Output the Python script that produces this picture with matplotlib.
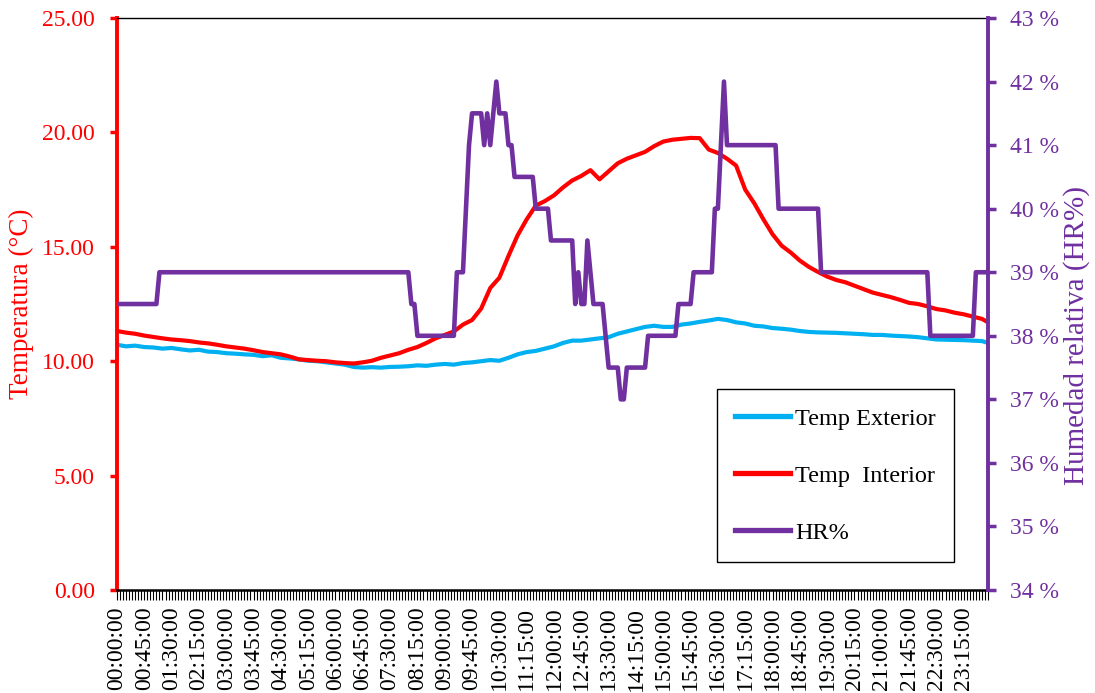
import matplotlib.pyplot as plt
from matplotlib.lines import Line2D
from matplotlib.ticker import FuncFormatter

plt.rcParams['font.family'] = ['Liberation Serif', 'DejaVu Serif']

# categories: one reading every 5 minutes
times = [f'{m // 60:02d}:{m % 60:02d}:00' for m in range(0, 24 * 60, 5)]

temp_times = [f'{m // 60:02d}:{m % 60:02d}:00' for m in range(0, 24 * 60, 15)] + ['23:55:00']

temp_ext = [10.72, 10.65, 10.68, 10.62, 10.60, 10.55, 10.58, 10.52,
            10.47, 10.50, 10.42, 10.40, 10.35, 10.33, 10.30, 10.28,
            10.22, 10.26, 10.15, 10.12, 10.08, 10.02, 10.00, 9.95,
            9.90, 9.85, 9.75, 9.72, 9.74, 9.72, 9.75, 9.76,
            9.78, 9.82, 9.80, 9.85, 9.88, 9.85, 9.92, 9.95,
            10.00, 10.05, 10.02, 10.15, 10.30, 10.40, 10.45, 10.55,
            10.65, 10.80, 10.90, 10.90, 10.95, 11.00, 11.05, 11.20,
            11.30, 11.40, 11.50, 11.55, 11.50, 11.50, 11.60, 11.65,
            11.72, 11.78, 11.85, 11.80, 11.70, 11.65, 11.55, 11.52,
            11.45, 11.42, 11.38, 11.32, 11.28, 11.26, 11.25, 11.24,
            11.22, 11.20, 11.18, 11.15, 11.15, 11.12, 11.10, 11.08,
            11.05, 11.00, 10.95, 10.94, 10.93, 10.92, 10.90, 10.88, 10.80]

temp_int = [11.32, 11.25, 11.20, 11.12, 11.06, 11.00, 10.95, 10.92,
            10.88, 10.82, 10.78, 10.72, 10.65, 10.60, 10.55, 10.48,
            10.40, 10.35, 10.30, 10.20, 10.08, 10.05, 10.02, 10.00,
            9.95, 9.92, 9.90, 9.95, 10.02, 10.15, 10.25, 10.35,
            10.50, 10.62, 10.80, 11.00, 11.15, 11.30, 11.60, 11.80,
            12.30, 13.20, 13.65, 14.60, 15.50, 16.20, 16.80, 17.00,
            17.25, 17.60, 17.90, 18.10, 18.35, 17.95, 18.30, 18.65,
            18.85, 19.00, 19.15, 19.40, 19.60, 19.68, 19.72, 19.76,
            19.75, 19.25, 19.10, 18.85, 18.55, 17.50, 16.90, 16.20,
            15.55, 15.05, 14.75, 14.40, 14.12, 13.90, 13.70, 13.55,
            13.45, 13.30, 13.15, 13.00, 12.90, 12.80, 12.68, 12.55,
            12.50, 12.40, 12.28, 12.22, 12.12, 12.05, 11.95, 11.85, 11.70]

# relative humidity, every 5 minutes (%)
hr = ([38.5] * 14 + [39] * 83 + [38.5] * 2 + [38] * 13 + [39] * 3 + [40, 41]
      + [41.5] * 4 + [41, 41.5, 41, 41.5, 42] + [41.5] * 3 + [41] * 2
      + [40.5] * 7 + [40] * 5 + [39.5] * 8
      + [38.5, 39, 38.5, 38.5, 39.5, 39, 38.5, 38.5, 38.5, 38.5, 38]
      + [37.5] * 4 + [37] * 2 + [37.5] * 7 + [38] * 10 + [38.5] * 5 + [39] * 7
      + [40, 40, 41, 42] + [41] * 17 + [40] * 14 + [39] * 36 + [38] * 15 + [39] * 5)

c_ext = '#00B0F0'
c_int = '#FF0000'
c_hr = '#7030A0'

t_idx = [times.index(t) for t in temp_times]
x_hr = list(range(len(times)))

fig = plt.figure(figsize=(10.95, 6.93), dpi=100)
ax = fig.add_axes([0.1068, 0.1486, 0.7955, 0.8254])
ax2 = ax.twinx()

ax.plot(t_idx, temp_ext, color=c_ext, lw=3.0)
ax.plot(t_idx, temp_int, color=c_int, lw=3.0)
ax2.plot(x_hr, hr, color=c_hr, lw=3.3)

ax.set_xlim(0, len(times) - 1)
ax.set_ylim(0, 25)
ax2.set_ylim(34, 43)
ax.set_yticks([0, 5, 10, 15, 20, 25])
ax.yaxis.set_major_formatter(FuncFormatter(lambda v, p: f'{v:.2f}'))
ax2.set_yticks(range(34, 44))
ax2.yaxis.set_major_formatter(FuncFormatter(lambda v, p: f'{v:.0f} %'))

ax.set_xticks(range(0, len(times), 9))
ax.set_xticklabels(times[::9], rotation=90, fontsize=17)
ax.set_xticks(range(len(times)), minor=True)
ax.tick_params(axis='x', which='both', direction='out', length=7, width=0.8,
               color='black', pad=5)

ax.tick_params(axis='y', colors=c_int, labelsize=17, length=5, width=2.5, pad=11)
ax2.tick_params(axis='y', colors=c_hr, labelsize=17, length=6, width=2.5, pad=10)

ax.set_ylabel('Temperatura (°C)', color=c_int, fontsize=19.5, labelpad=6)
ax2.set_ylabel('Humedad relativa (HR%)', color=c_hr, fontsize=21)
ax2.yaxis.set_label_coords(1.086, 0.445)

ax.spines['left'].set_color(c_int)
ax.spines['left'].set_linewidth(2.8)
ax.spines['right'].set_visible(False)
ax.spines['top'].set_linewidth(1.0)
ax.spines['bottom'].set_linewidth(1.8)
for s in ['left', 'top', 'bottom']:
    ax2.spines[s].set_visible(False)
ax2.spines['right'].set_color(c_hr)
ax2.spines['right'].set_linewidth(2.8)

handles = [Line2D([], [], color=c_ext, lw=3.8),
           Line2D([], [], color=c_int, lw=3.8),
           Line2D([], [], color=c_hr, lw=3.8)]
leg = ax2.legend(handles, ['Temp Exterior', 'Temp  Interior', 'HR%'],
                 loc='lower left', bbox_to_anchor=(0.689, 0.049), fontsize=17.5,
                 frameon=True, fancybox=False, framealpha=1, edgecolor='black',
                 handlelength=2.25, handletextpad=0.2, labelspacing=1.44,
                 borderpad=0.75, borderaxespad=0)
leg.get_frame().set_linewidth(1.0)

fig.savefig('out.png', dpi=100)
